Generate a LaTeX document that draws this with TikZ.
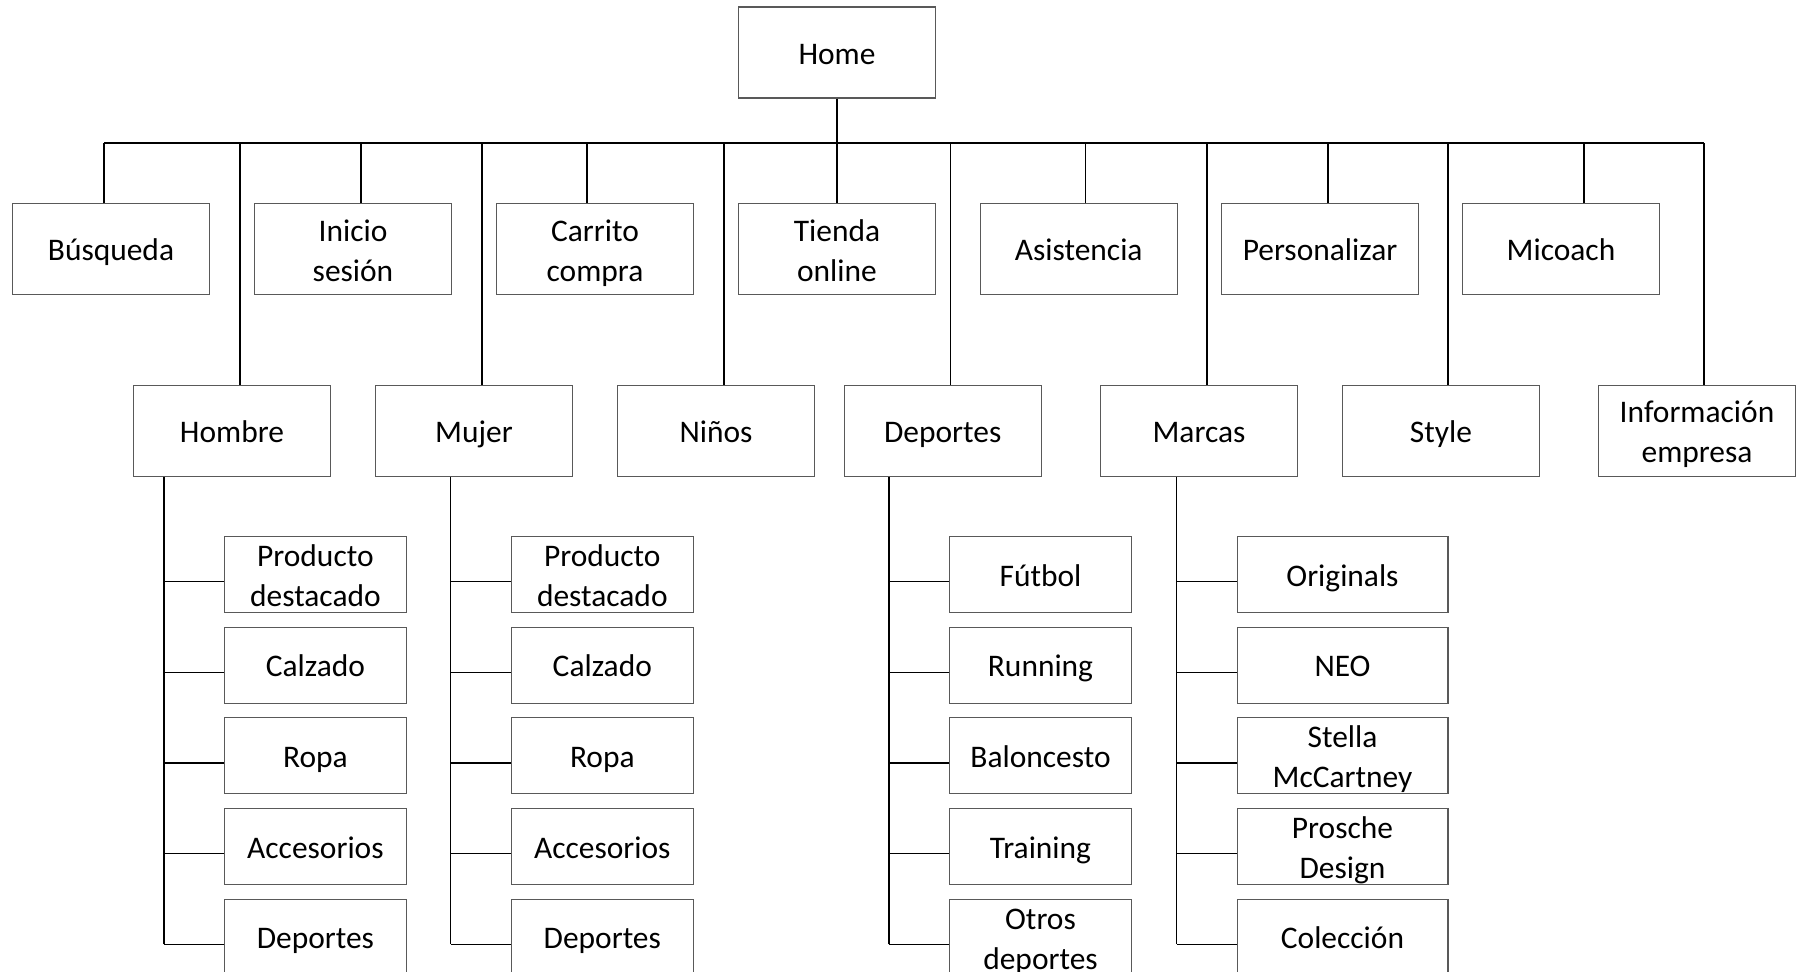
\documentclass[tikz,border=0pt]{standalone}
\usepackage{fontspec}
\setmainfont{Carlito}
\usetikzlibrary{positioning, calc}

\definecolor{boxGray}{HTML}{595959}

\tikzset{
    % Site map
    mapPic/.style={x=0.02cm, y=-0.02cm},
    pageBox/.style={rectangle, draw=boxGray, line width=0.6pt, fill=white,
        align=center, inner sep=0pt, text width=3.2cm,
        text height=16.5pt, text depth=3.2pt,
        font=\fontsize{17.9}{22.7}\selectfont},
    oneLine/.style={},
    twoLines/.style={text depth=25.6pt},
    topBox/.style={pageBox, minimum width=3.94cm, minimum height=1.82cm},
    subBox/.style={pageBox, minimum width=3.64cm, minimum height=1.52cm},
    wideBox/.style={subBox, minimum width=4.22cm},
    linkLine/.style={draw=black, line width=0.75pt},
    busLine/.style={draw=black, line width=1.1pt}
}

\begin{document}
\begin{tikzpicture}[mapPic]
    \useasboundingbox (0,0) rectangle (1802,972);

    % Home and main bus
    \node[topBox] (home) at (837,52.5) {Home};
    \coordinate (busL) at (104,143);
    \coordinate (busR) at (1704,143);
    \draw[busLine] (busL) -- (busR);
    \draw[linkLine] (home.south) -- (home.south |- busL);

    % First row
    \node[topBox] (busqueda)               at (111,249.2)    {Búsqueda};
    \node[topBox, twoLines] (inicio)       at (353,249.2)    {Inicio\\sesión};
    \node[topBox, twoLines] (carrito)      at (595,249.2)    {Carrito\\compra};
    \node[topBox, twoLines] (tienda)       at (837,249.2)    {Tienda\\online};
    \node[topBox] (asistencia)             at (1078.7,249.2) {Asistencia};
    \node[topBox] (personalizar)           at (1320,249.2)   {Personalizar};
    \node[topBox] (micoach)                at (1561,249.2)   {Micoach};

    % Second row
    \node[topBox] (hombre)           at (232,430.7)    {Hombre};
    \node[topBox] (mujer)            at (474,430.7)    {Mujer};
    \node[topBox] (ninos)            at (716,430.7)    {Niños};
    \node[topBox] (deportes)         at (942.7,430.7)  {Deportes};
    \node[topBox] (marcas)           at (1199,430.7)   {Marcas};
    \node[topBox] (style)            at (1441,430.7)   {Style};
    \node[topBox, twoLines] (info)   at (1697,430.7)   {Información\\empresa};

    % Drops from the bus
    \foreach \n/\dx in {busqueda/-7, inicio/8, carrito/-8, tienda/0, asistencia/7,
        personalizar/8, micoach/23, hombre/8, mujer/8, ninos/8, deportes/8,
        marcas/8, style/7, info/7} {
        \draw[linkLine] (\n.north) ++(\dx,0) coordinate (up) -- (up |- busL);
    }

    % Hombre
    \foreach \txt/\lines [count=\i] in {{Producto\\destacado}/twoLines, Calzado/oneLine,
        Ropa/oneLine, Accesorios/oneLine, Deportes/oneLine} {
        \node[subBox, \lines] (hom\i) at (315.4,483.8+90.7*\i) {\txt};
        \draw[linkLine] ([yshift=-0.14cm]hom\i.west) -- ++(-60,0) coordinate (homEnd);
    }
    \draw[linkLine] (homEnd) -- (homEnd |- hombre.south);

    % Mujer
    \foreach \txt/\lines [count=\i] in {{Producto\\destacado}/twoLines, Calzado/oneLine,
        Ropa/oneLine, Accesorios/oneLine, Deportes/oneLine} {
        \node[subBox, \lines] (muj\i) at (602.3,483.8+90.7*\i) {\txt};
        \draw[linkLine] ([yshift=-0.14cm]muj\i.west) -- ++(-60,0) coordinate (mujEnd);
    }
    \draw[linkLine] (mujEnd) -- (mujEnd |- mujer.south);

    % Deportes
    \foreach \txt/\lines [count=\i] in {Fútbol/oneLine, Running/oneLine, Baloncesto/oneLine,
        Training/oneLine, {Otros\\deportes}/twoLines} {
        \node[subBox, \lines] (dep\i) at (1040.5,483.8+90.7*\i) {\txt};
        \draw[linkLine] ([yshift=-0.14cm]dep\i.west) -- ++(-60,0) coordinate (depEnd);
    }
    \draw[linkLine] (depEnd) -- (depEnd |- deportes.south);

    % Marcas
    \foreach \txt/\lines [count=\i] in {Originals/oneLine, NEO/oneLine,
        {Stella\\McCartney}/twoLines, {Prosche\\Design}/twoLines, Colección/oneLine} {
        \node[wideBox, \lines] (mar\i) at (1342.5,483.8+90.7*\i) {\txt};
        \draw[linkLine] ([yshift=-0.14cm]mar\i.west) -- ++(-60,0) coordinate (marEnd);
    }
    \draw[linkLine] (marEnd) -- (marEnd |- marcas.south);
\end{tikzpicture}
\end{document}
